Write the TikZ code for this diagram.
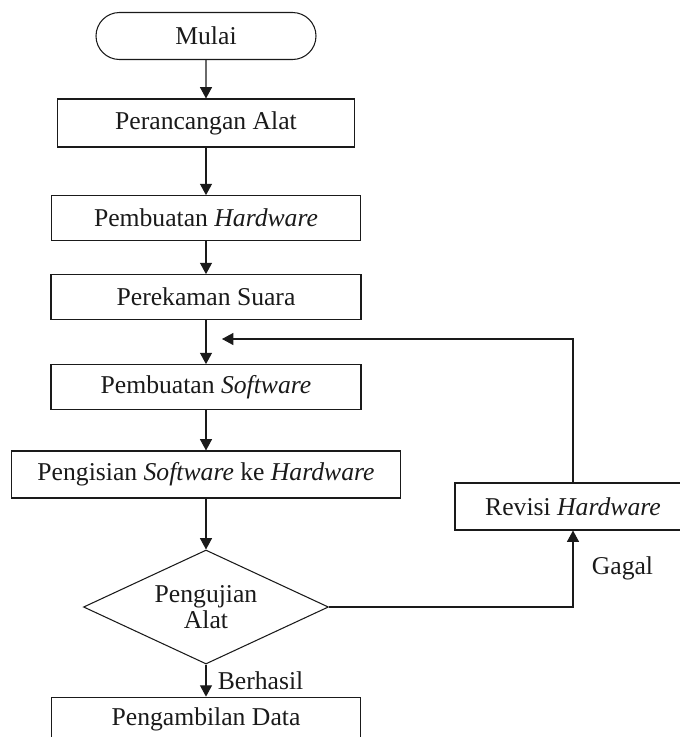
\documentclass[tikz,border=0pt]{standalone}
\usepackage{fontspec}
\setmainfont{Liberation Serif}
\usepackage{xcolor}
\usepackage{tikz}
\usetikzlibrary{arrows.meta,shapes.misc,shapes.geometric}
\definecolor{ink}{HTML}{1A1A1A}
\tikzset{
  box/.style={draw=ink,line width=0.9pt,fill=white,inner sep=0pt,align=center,text=ink,font=\fontsize{21.9}{26}\selectfont},
  term/.style={box,rounded rectangle,minimum width=66mm,minimum height=14.1mm},
  stepbox/.style={box,rectangle,minimum width=#1,minimum height=13.4mm},
  decision/.style={box,diamond,aspect=2.15,minimum width=73.5mm,minimum height=34.2mm,font=\fontsize{21.9}{22.5}\selectfont},
  arrow/.style={-{Triangle[length=3.4mm,width=3.6mm]},line width=0.9pt,color=ink},
  lbl/.style={font=\fontsize{21.9}{26}\selectfont,text=ink,inner sep=0pt},
}

\begin{document}
\begin{tikzpicture}[x=0.3mm,y=-0.3mm]
    \useasboundingbox (0,0) rectangle (680,737);
    % main column
    \node[term] (mulai) at (206,36) {Mulai};
    \node[stepbox=89.1mm,minimum height=14.4mm] (rancang) at (206,123) {Perancangan Alat};
    \node[stepbox=92.7mm] (buathw) at (206,218) {Pembuatan \textit{Hardware}};
    \node[stepbox=93mm] (rekam) at (206,297) {Perekaman Suara};
    \node[stepbox=93mm] (buatsw) at (206,387) {Pembuatan \textit{Software}};
    \node[stepbox=116.7mm,minimum height=14.1mm] (isi) at (206,474.5) {Pengisian \textit{Software} ke \textit{Hardware}};
    \node[decision] (uji) at (206,607) {Pengujian\\Alat};
    \node[stepbox=92.7mm] (ambil) at (206,719.5) {Pengambilan Data};
    % revision loop
    \node[stepbox=70.8mm,minimum height=14.1mm] (revisi) at (573,506.5) {Revisi \textit{Hardware}};
    \coordinate (masuk) at (222,339);

    \draw[arrow] (mulai) -- (rancang);
    \draw[arrow] (rancang) -- (buathw);
    \draw[arrow] (buathw) -- (rekam);
    \draw[arrow] (rekam) -- (buatsw);
    \draw[arrow] (buatsw) -- (isi);
    \draw[arrow] (isi) -- (uji);
    \draw[arrow] (uji) -- node[lbl,anchor=west,xshift=3.4mm] {Berhasil} (ambil);
    \draw[arrow] (uji.east) -| node[lbl,pos=0.75,anchor=west,xshift=5.5mm] {Gagal} (revisi.south);
    \draw[arrow] (revisi.north) |- (masuk);
  \end{tikzpicture}
\end{document}
